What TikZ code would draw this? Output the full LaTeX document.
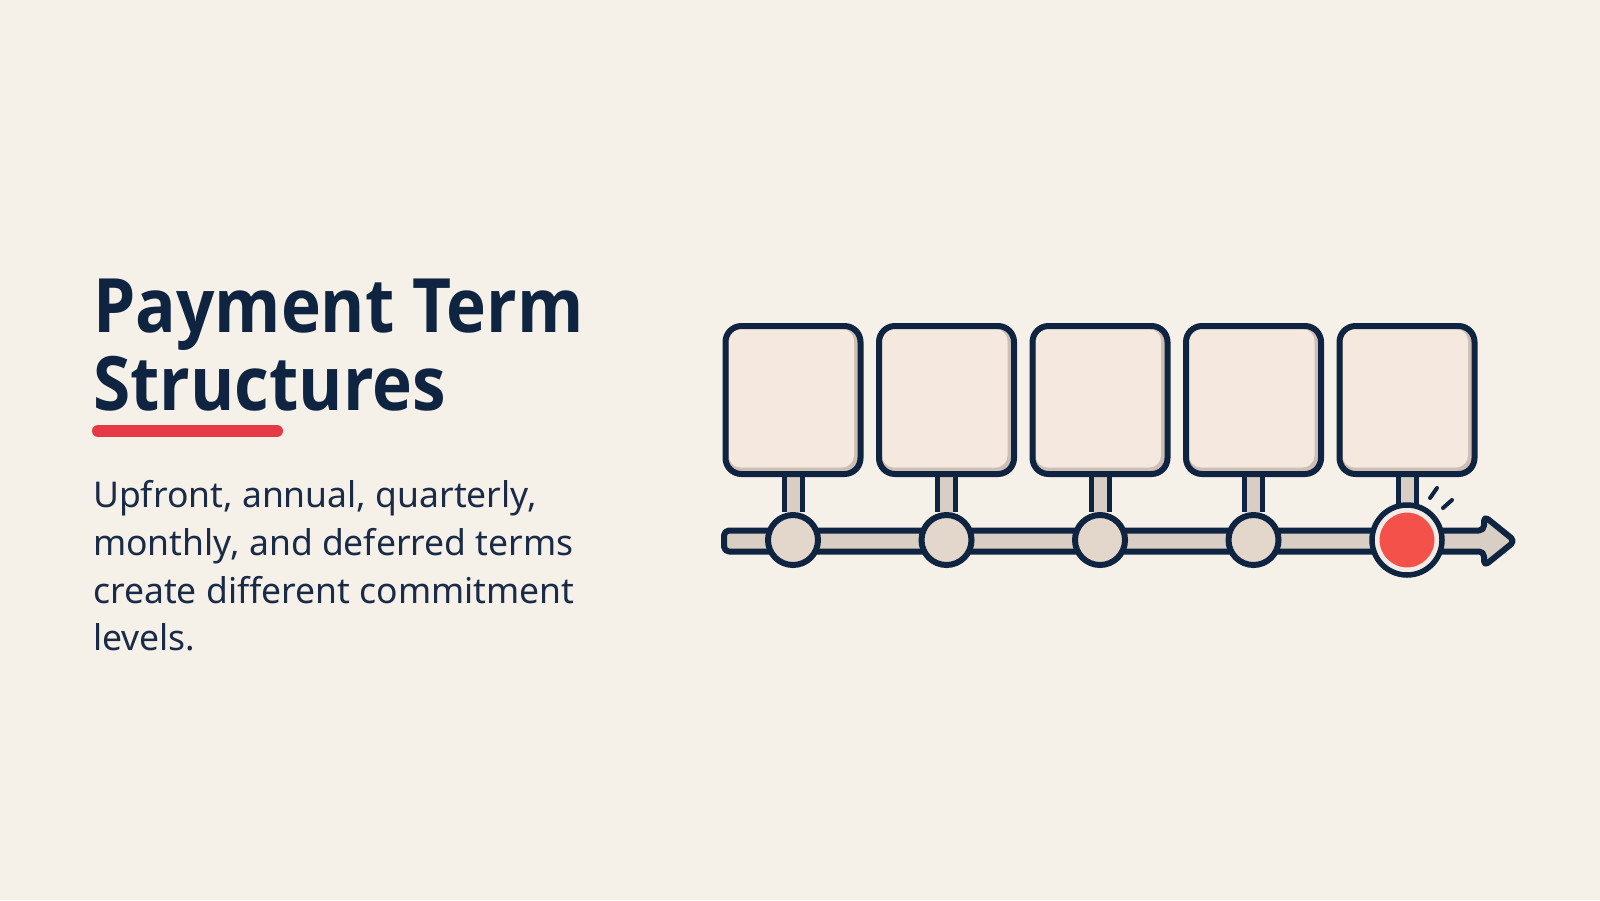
\documentclass[tikz,border=0pt]{standalone}
\usepackage{fontspec}
\setmainfont{Noto Sans}
\newfontfamily\headfont{Open Sans}[FakeStretch=0.9]
\usetikzlibrary{calc}
\pgfdeclarelayer{back}
\pgfdeclarelayer{under}
\pgfsetlayers{back,under,main}

\definecolor{paper}{HTML}{F5F0E8}
\definecolor{ink}{HTML}{0E2440}
\definecolor{bodyink}{HTML}{1A2B48}
\definecolor{cardfill}{HTML}{F5E8DE}
\definecolor{cardshade}{HTML}{CDBFB4}
\definecolor{railfill}{HTML}{D9CEC4}
\definecolor{knobfill}{HTML}{E3D6CB}
\definecolor{ringfill}{HTML}{F3ECE6}
\definecolor{accent}{HTML}{E63946}
\definecolor{hot}{HTML}{F4514A}

\begin{document}
\begin{tikzpicture}[
        x=1pt, y=-1pt,
        title/.style={anchor=base west, inner sep=0pt, color=ink,
            font=\headfont\fontsize{75}{78}\selectfont\bfseries},
        body/.style={anchor=base west, inner sep=0pt, color=bodyink,
            font=\fontsize{35.5}{48}\selectfont},
        card/.style={draw=ink, line width=6pt, fill=cardshade,
            rounded corners=16pt, minimum width=135pt, minimum height=148pt,
            inner sep=0pt,
            path picture={\fill[cardfill, rounded corners=12pt]
                ($(path picture bounding box.north west)+(3,3)$) rectangle
                ($(path picture bounding box.south east)+(-6.5,-6.5)$);}},
        knob/.style={circle, draw=ink, line width=6pt, fill=knobfill,
            minimum size=50pt, inner sep=0pt},
        now/.style={circle, draw=ringfill, line width=5pt, fill=hot,
            minimum size=60pt, inner sep=0pt},
        stem/.style={draw=ink, line width=5pt, double=railfill,
            double distance=13pt},
        rail/.style={draw=ink, line width=6pt, fill=railfill,
            rounded corners=5pt, line join=round},
        tick/.style={ink, line width=4pt, line cap=round},
    ]

    \begin{pgfonlayer}{back}
        \fill[paper] (0,0) rectangle (1600,900);
    \end{pgfonlayer}
    \useasboundingbox (0,0) rectangle (1600,900);

    % heading and text
    \node[title] (title1) at (93,332) {Payment Term};
    \node[title] (title2) at (93,410) {Structures};
    \draw[accent, line width=12pt, line cap=round] (98,431) -- (277,431);
    \node[body] (text1) at (93,507) {Upfront, annual, quarterly,};
    \node[body] (text2) at (93,555) {monthly, and deferred terms};
    \node[body] (text3) at (93,603) {create different commitment};
    \node[body] (text4) at (93,650) {levels.};

    % timeline
    \coordinate (tail) at (724,541);
    \coordinate (head) at (1515,541);
    \begin{pgfonlayer}{under}
        \draw[rail] ($(tail)+(0,-10.5)$) -- ($(head)+(-31,-10.5)$)
            -- ($(head)+(-31,-25)$) -- (head) -- ($(head)+(-31,25)$)
            -- ($(head)+(-31,10.5)$) -- ($(tail)+(0,10.5)$) -- cycle;
    \end{pgfonlayer}

    \foreach \i in {1,...,5} {
        \node[card] (card\i) at (793+153.5*\i-153.5,400) {};
    }
    \foreach \i in {1,...,4} {
        \node[knob] (knob\i) at (793+153.5*\i-153.5,540) {};
    }
    \node[now] (knob5) at (1407,540) {};
    \draw[ink, line width=5.5pt] (knob5.center) circle (35);

    \begin{pgfonlayer}{under}
        \foreach \i in {1,...,5} {
            \draw[stem] (card\i.south) -- (knob\i.north);
        }
    \end{pgfonlayer}

    \draw[tick] (1430,498) -- (1437,488);
    \draw[tick] (1443,508) -- (1452,500);

\end{tikzpicture}
\end{document}
